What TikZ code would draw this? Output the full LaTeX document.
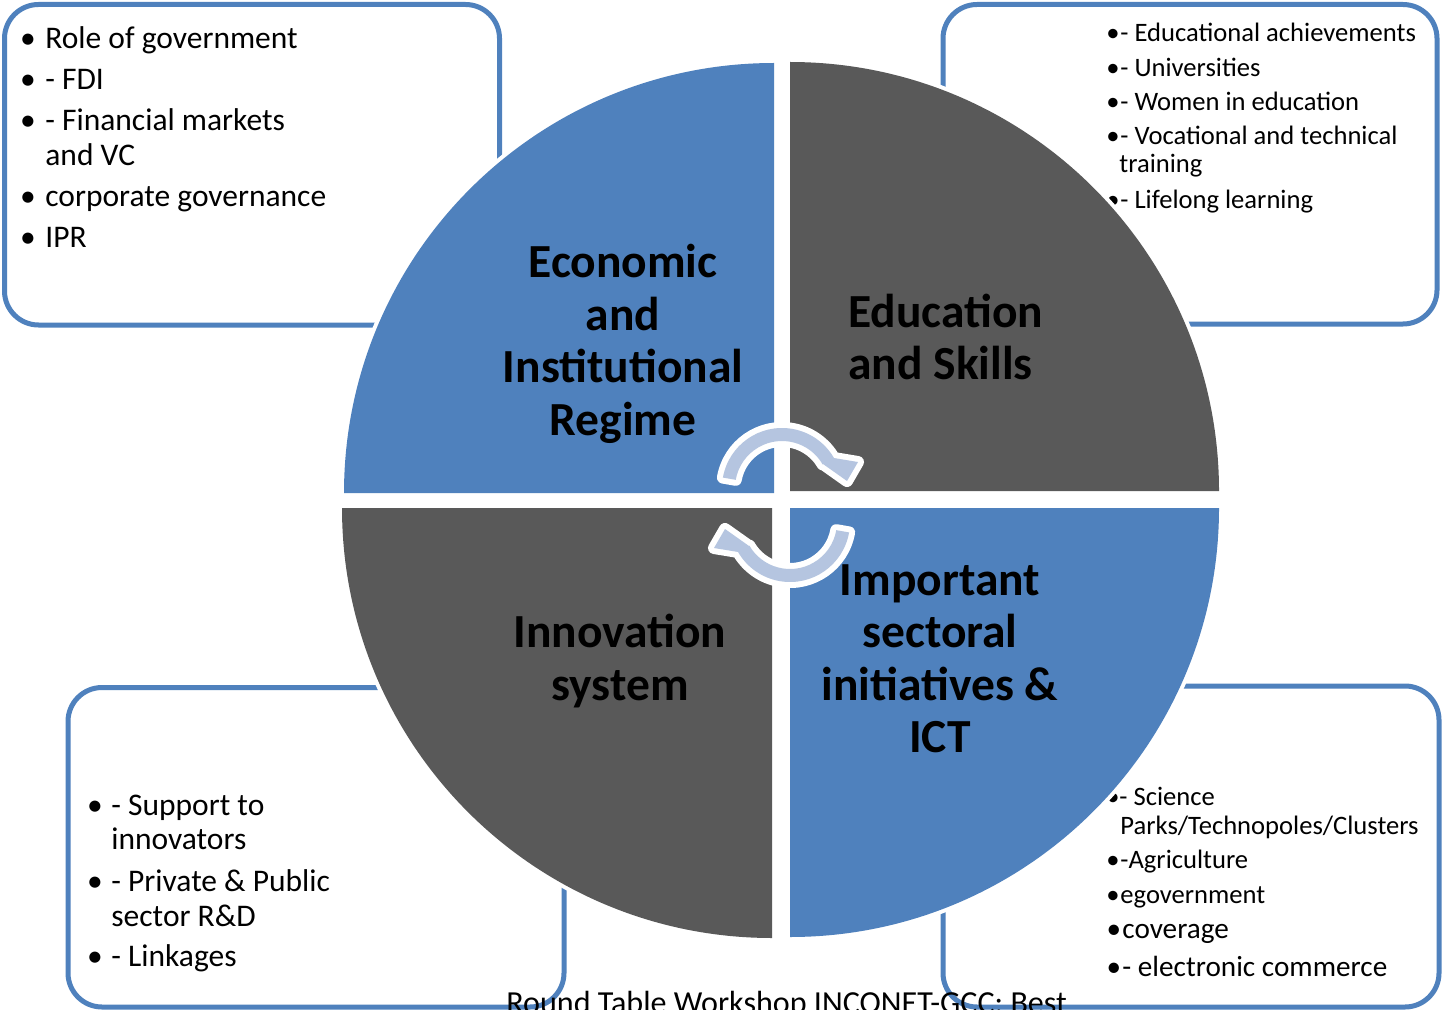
\documentclass[tikz,border=0pt]{standalone}
\usepackage{fontspec}
\setmainfont{Carlito}
\definecolor{qblue}{HTML}{4F81BD}
\definecolor{qgray}{HTML}{595959}
\definecolor{boxblue}{HTML}{4F81BD}
\definecolor{arrowblue}{HTML}{B5C5E0}
\tikzset{
  box/.style={draw=boxblue, line width=2.5pt, rounded corners=17pt, fill=white},
  quad/.style={preaction={draw=white, line width=4pt, line join=round}},
  cyc/.style={fill=arrowblue, preaction={draw=white, line width=6pt, line join=round}},
  lbl/.style={inner sep=0, font=\fontsize{23.75}{26.25}\selectfont\bfseries, align=center},
  bigt/.style={inner sep=0, anchor=base west, font=\fontsize{15.75}{18}\selectfont},
  bigb/.style={inner sep=0, anchor=base, font=\fontsize{15.75}{18}\selectfont},
  smt/.style={inner sep=0, anchor=base west, font=\fontsize{13.3}{16}\selectfont},
  smb/.style={inner sep=0, anchor=base, font=\fontsize{13.3}{16}\selectfont},
  mdt/.style={inner sep=0, anchor=base west, font=\fontsize{14.6}{17}\selectfont},
  mdb/.style={inner sep=0, anchor=base, font=\fontsize{14.6}{17}\selectfont},
}
\begin{document}
\begin{tikzpicture}[x=0.5pt,y=-0.5pt]
\useasboundingbox (0,0) rectangle (1443,1010);
\clip (0,0) rectangle (1443,1010);

% boxes
\draw[box] (4.5,4.5) rectangle (499.5,325);
\draw[box] (943,4.5) rectangle (1437,324);
\draw[box] (68,687.5) rectangle (564,1007);
\draw[box] (943,686) rectangle (1439,1007);

% top-left list
\node[bigb] (tlb1) at (28,49) {•};
\node[bigt] (tl1) at (45,49) {Role of government};
\node[bigb] (tlb2) at (28,90) {•};
\node[bigt] (tl2) at (45,90) {- FDI};
\node[bigb] (tlb3) at (28,131) {•};
\node[bigt] (tl3) at (45,131) {- Financial markets};
\node[bigt] (tl3b) at (45,166) {and VC};
\node[bigb] (tlb4) at (28,207) {•};
\node[bigt] (tl4) at (45,207) {corporate governance};
\node[bigb] (tlb5) at (28,248) {•};
\node[bigt] (tl5) at (45,248) {IPR};

% top-right list
\node[smb] (trb1) at (1113,42) {•};
\node[smt] (tr1) at (1120,42) {- Educational achievements};
\node[smb] (trb2) at (1113,77) {•};
\node[smt] (tr2) at (1120,77) {- Universities};
\node[smb] (trb3) at (1113,111) {•};
\node[smt] (tr3) at (1120,111) {- Women in education};
\node[smb] (trb4) at (1113,145) {•};
\node[smt] (tr4) at (1120,145) {- Vocational and technical};
\node[smt] (tr4b) at (1119,173) {training};
\node[smb] (trb5) at (1113,209) {•};
\node[smt] (tr5) at (1120,209) {- Lifelong learning};

% bottom-left list
\node[bigb] (blb1) at (95,815) {•};
\node[bigt] (bl1) at (111,815) {- Support to};
\node[bigt] (bl1b) at (111,849) {innovators};
\node[bigb] (blb2) at (95,891) {•};
\node[bigt] (bl2) at (111,891) {- Private \& Public};
\node[bigt] (bl2b) at (111,926) {sector R\&D};
\node[bigb] (blb3) at (95,966) {•};
\node[bigt] (bl3) at (111,966) {- Linkages};

% bottom-right list
\node[smb] (brb1) at (1113,805) {•};
\node[smt] (br1) at (1119,805) {- Science};
\node[smt] (br1b) at (1120,834) {Parks/Technopoles/Clusters};
\node[smb] (brb2) at (1113,868) {•};
\node[smt] (br2) at (1120,868) {-Agriculture};
\node[smb] (brb3) at (1113,903) {•};
\node[smt] (br3) at (1120,903) {egovernment};
\node[mdb] (brb4) at (1114,938) {•};
\node[mdt] (br4) at (1122,938) {coverage};
\node[mdb] (brb5) at (1114,976) {•};
\node[mdt] (br5) at (1122,976) {- electronic commerce};

% quadrants
\fill[qblue, quad] (774,493) -- (344,493) arc[start angle=180, end angle=270, radius=430] -- cycle;
\fill[qgray, quad] (790,491) -- (790,62) arc[start angle=270, end angle=360, radius=429] -- cycle;
\fill[qgray, quad] (772,508) -- (342,508) arc[start angle=180, end angle=90, radius=430] -- cycle;
\fill[qblue, quad] (790,508) -- (1219,508) arc[start angle=0, end angle=90, radius=429] -- cycle;

% quadrant labels
\node[lbl] (econ) at (623,344) {Economic\\and\\Institutional\\Regime};
\node[lbl, align=left, anchor=west] (edu) at (848,337) {Education\\and Skills};
\node[lbl] (inno) at (620,661) {Innovation\\system};
\node[lbl] (ict) at (940,659) {Important\\sectoral\\initiatives \&\\ICT};

% cycle arrows
\path[cyc] ([shift={(782,488)}]190:60) arc[start angle=190, end angle=330, radius=60]
  -- (858,462) -- (847,481) -- (823,464) -- ([shift={(782,488)}]330:47)
  arc[start angle=330, end angle=190, radius=47] -- cycle;
\begin{scope}[rotate around={180:(786,505)}]
\path[cyc] ([shift={(782,488)}]190:60) arc[start angle=190, end angle=330, radius=60]
  -- (858,462) -- (847,481) -- (823,464) -- ([shift={(782,488)}]330:47)
  arc[start angle=330, end angle=190, radius=47] -- cycle;
\end{scope}

% footer
\node[inner sep=0, anchor=base west, font=\fontsize{16.05}{19}\selectfont] (foot) at (506,1013) {Round Table Workshop INCONET-GCC: Best};
\end{tikzpicture}
\end{document}
